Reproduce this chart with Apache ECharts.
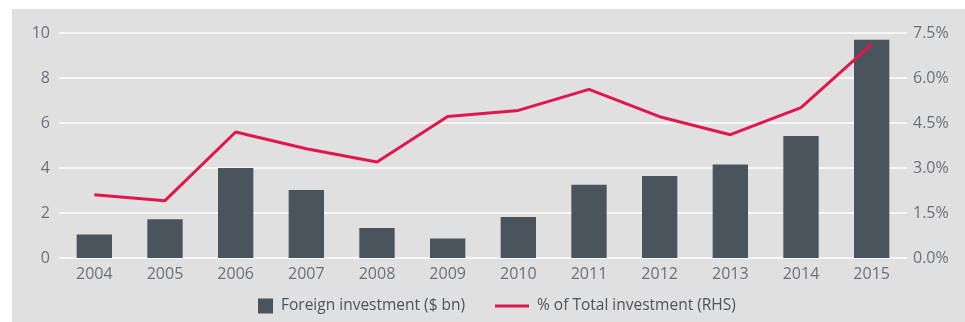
<!DOCTYPE html>
<html>
<head>
<meta charset="utf-8">
<script src="https://cdn.jsdelivr.net/npm/echarts@6/dist/echarts.min.js"></script>
<style>
  html, body { margin: 0; padding: 0; background: #ffffff; }
  #chart { width: 965px; height: 322px; }
</style>
</head>
<body>
<div id="chart"></div>
<script>
// Years on the category axis
const years = ['2004', '2005', '2006', '2007', '2008', '2009', '2010', '2011', '2012', '2013', '2014', '2015'];
// Foreign investment, $ bn (left axis)
const foreignInvestment = [1.05, 1.72, 4.0, 3.02, 1.33, 0.87, 1.82, 3.26, 3.64, 4.16, 5.42, 9.7];
// Share of total investment, % (right axis)
const shareOfTotal = [2.11, 1.91, 4.2, 3.64, 3.2, 4.72, 4.92, 5.62, 4.71, 4.11, 5.01, 7.12];
// Series names shown in the legend
const seriesNames = ['Foreign investment ($ bn)', '% of Total investment (RHS)'];

const barColor = '#4a545c';
const lineColor = '#e0174a';
const textColor = '#6b7077';
const fontFamily = '"Open Sans", "Liberation Sans", sans-serif';

const legendText = {
  color: '#4d535a', fontSize: 15.5, fontFamily: fontFamily, lineHeight: 16,
  padding: [0, 0, 0, 3]
};

const chart = echarts.init(document.getElementById('chart'), null, { renderer: 'canvas' });
chart.setOption({
  animation: false,
  backgroundColor: '#ffffff',
  graphic: [{
    type: 'rect',
    z: -10,
    silent: true,
    shape: { x: 12, y: 9, width: 953, height: 313 },
    style: { fill: '#e0e0e0' }
  }],
  grid: { left: 59, right: 58, top: 33, bottom: 64, containLabel: false },
  legend: [{
    left: 258, top: 298, padding: 0,
    itemWidth: 15, itemHeight: 15,
    textStyle: legendText,
    data: [{ name: seriesNames[0], icon: 'rect' }]
  }, {
    left: 495, top: 298, padding: 0,
    itemWidth: 34, itemHeight: 3,
    textStyle: legendText,
    data: [{ name: seriesNames[1], icon: 'rect' }]
  }],
  xAxis: {
    type: 'category',
    data: years,
    axisLine: { show: false },
    axisTick: { show: false },
    axisLabel: { color: textColor, fontSize: 16, fontFamily: fontFamily, margin: 8 }
  },
  yAxis: [{
    type: 'value',
    min: 0, max: 10, interval: 2,
    axisLine: { show: false },
    axisTick: { show: false },
    splitLine: { lineStyle: { color: '#ffffff', width: 1.5 } },
    axisLabel: { color: textColor, fontSize: 16, fontFamily: fontFamily, margin: 9 }
  }, {
    type: 'value',
    min: 0, max: 7.5, interval: 1.5,
    axisLine: { show: false },
    axisTick: { show: false },
    splitLine: { show: false },
    axisLabel: {
      color: textColor, fontSize: 16, fontFamily: fontFamily, margin: 6,
      formatter: v => v.toFixed(1) + '%'
    }
  }],
  series: [{
    name: seriesNames[0],
    type: 'bar',
    data: foreignInvestment,
    barWidth: '50%',
    itemStyle: { color: barColor }
  }, {
    name: seriesNames[1],
    type: 'line',
    yAxisIndex: 1,
    data: shareOfTotal,
    symbol: 'none',
    lineStyle: { color: lineColor, width: 3 },
    itemStyle: { color: lineColor }
  }]
});
</script>
</body>
</html>
